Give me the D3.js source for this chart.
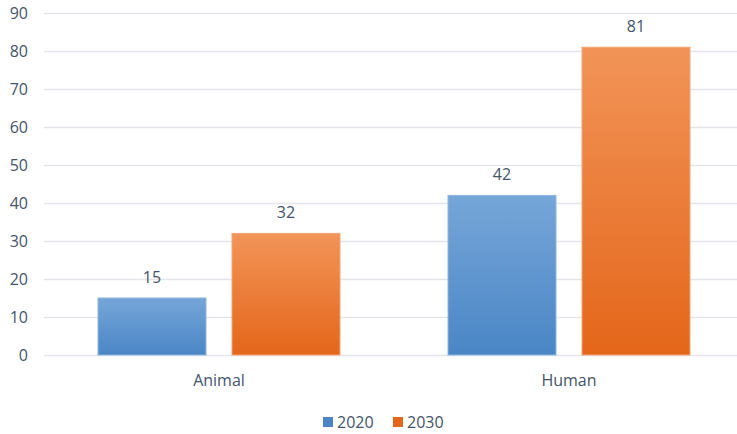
<!DOCTYPE html>
<html>
<head>
<meta charset="utf-8">
<script src="https://cdn.jsdelivr.net/npm/d3@7"></script>
<style>
  html, body { margin: 0; padding: 0; background: #fff; }
  svg { display: block; }
  text { font-family: "Open Sans", Lato, "Liberation Sans", sans-serif; fill: #44546a; }
</style>
</head>
<body>
<svg id="chart" width="737" height="434"></svg>
<script>
const categories = ["Animal", "Human"];
const seriesNames = ["2020", "2030"];
const values2020 = [15, 42];
const values2030 = [32, 81];
const yTicks = [0, 10, 20, 30, 40, 50, 60, 70, 80, 90];

const seriesValues = [values2020, values2030];
const colors = {
  "2020": { top: "#76a6d8", bottom: "#4a86c6", stroke: "#8fb6e0" },
  "2030": { top: "#f29458", bottom: "#e4661a", stroke: "#f4a574" }
};

const W = 737, H = 434;
const FONT = '"Open Sans", Lato, sans-serif';
const FS = 16;
const margin = { left: 44, right: -7, top: 13, bottom: 79 };
const svg = d3.select("#chart");

const x = d3.scaleBand().domain(categories)
  .range([margin.left, W - margin.right]).paddingInner(0).paddingOuter(0);
const x1 = d3.scaleBand().domain(seriesNames)
  .range([54, x.bandwidth() - 54]).paddingInner(26 / 134);
const y = d3.scaleLinear().domain([0, 90]).range([H - margin.bottom, margin.top]);

const defs = svg.append("defs");
seriesNames.forEach(s => {
  const g = defs.append("linearGradient").attr("id", "grad" + s)
    .attr("x1", 0).attr("y1", 0).attr("x2", 0).attr("y2", 1);
  g.append("stop").attr("offset", "0%").attr("stop-color", colors[s].top);
  g.append("stop").attr("offset", "100%").attr("stop-color", colors[s].bottom);
});

// horizontal gridlines and y tick labels
const yAxis = d3.axisLeft(y).tickValues(yTicks).tickSize(-(W - margin.left)).tickPadding(16);
const ya = svg.append("g").attr("transform", `translate(${margin.left},0)`).call(yAxis);
ya.select(".domain").remove();
ya.selectAll(".tick line").attr("stroke", "#e3e5ea").attr("stroke-width", 1.5);
ya.selectAll(".tick text").attr("font-size", FS).attr("fill", "#44546a")
  .style("font-family", FONT);

// category labels
const xAxis = d3.axisBottom(x).tickSize(0).tickPadding(20);
const xa = svg.append("g").attr("transform", `translate(0,${H - margin.bottom})`).call(xAxis);
xa.select(".domain").remove();
xa.selectAll(".tick text").attr("font-size", FS).attr("fill", "#44546a")
  .style("font-family", FONT);

// bars
const rows = [];
categories.forEach((c, i) => seriesNames.forEach((s, j) =>
  rows.push({ cat: c, series: s, value: seriesValues[j][i] })));

const bars = svg.append("g");
bars.selectAll("rect").data(rows).join("rect")
  .attr("x", d => x(d.cat) + x1(d.series))
  .attr("width", x1.bandwidth())
  .attr("y", d => y(d.value))
  .attr("height", d => y(0) - y(d.value))
  .attr("fill", d => `url(#grad${d.series})`)
  .attr("stroke", d => colors[d.series].stroke)
  .attr("stroke-width", 1);

// value labels
svg.append("g").selectAll("text").data(rows).join("text")
  .attr("x", d => x(d.cat) + x1(d.series) + x1.bandwidth() / 2)
  .attr("y", d => y(d.value) - 15)
  .attr("text-anchor", "middle")
  .attr("font-size", FS)
  .text(d => d.value);

// legend
const legend = svg.append("g").attr("transform", "translate(323,416)");
const items = legend.selectAll("g").data(seriesNames).join("g")
  .attr("transform", (d, i) => `translate(${i * 70},0)`);
items.append("rect").attr("width", 10).attr("height", 10).attr("y", 1)
  .attr("fill", d => colors[d].bottom);
items.append("text").attr("x", 14).attr("y", 12).attr("font-size", FS).text(d => d);
</script>
</body>
</html>
